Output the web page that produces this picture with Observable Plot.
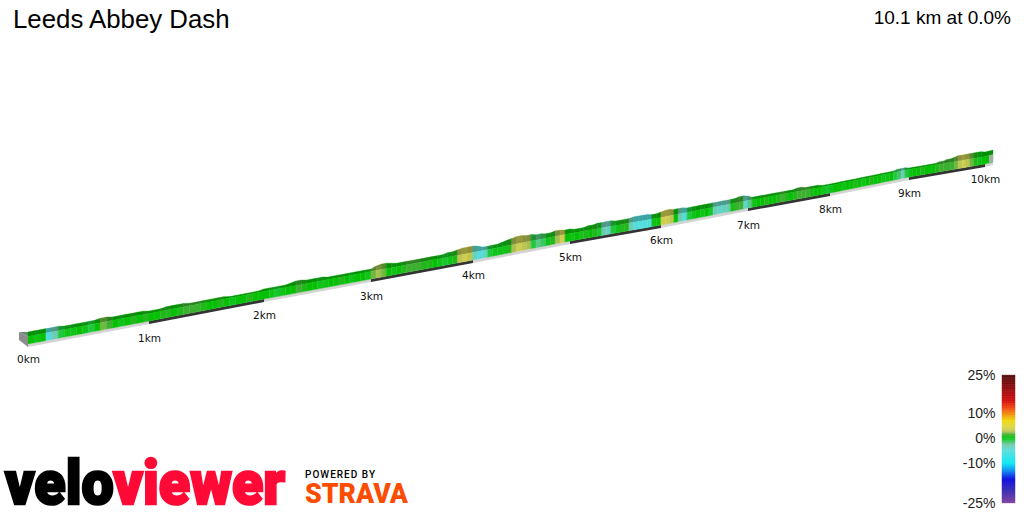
<!DOCTYPE html>
<html><head><meta charset="utf-8">
<script src="https://cdn.jsdelivr.net/npm/d3@7"></script>
<script src="https://cdn.jsdelivr.net/npm/@observablehq/plot@0.6"></script>
<style>
html,body{margin:0;padding:0;background:#fff;width:1024px;height:512px;overflow:hidden}
#wrap{position:relative;width:1024px;height:512px;font-family:"Liberation Sans",Arial,sans-serif}
#wrap>*{position:absolute}
#title{left:13px;top:5px;font-size:25.8px;color:#000}
#sub{right:13px;top:7px;font-size:19px;color:#000}
#chart{left:0;top:0}
#legend{left:940px;top:365px}
#logo{left:0;top:425px}
</style></head><body>
<div id="wrap">
<div id="chart"></div>
<div id="title">Leeds Abbey Dash</div>
<div id="sub">10.1 km at 0.0%</div>
<div id="legend"></div>
<svg id="logo" width="430" height="87">
<text x="5" y="79" font-family="Roboto,'Liberation Sans'" font-weight="900" font-size="62" stroke-width="2.5" textLength="280" lengthAdjust="spacingAndGlyphs"><tspan fill="#000" stroke="#000">velo</tspan><tspan fill="#ff0a36" stroke="#ff0a36">viewer</tspan></text>
<text x="305" y="53" font-family="Roboto,'Liberation Sans'" font-weight="500" font-size="10" textLength="70">POWERED BY</text>
<text x="305" y="78" font-family="Roboto,'Liberation Sans'" font-weight="900" font-size="27" fill="#fc4c02" textLength="103" lengthAdjust="spacingAndGlyphs">STRAVA</text>
</svg>
</div>
<script>
// Distance marks along the route and their projected position
const kmMarks=[-0.075,0,1,2,3,4,5,6,7,8,9,10,10.1];
const kmScreen=[19,28,149,264,371,473,570,661,748,830,909,985,993];
const baseKm=[0,1,2,3,4,5,6,7,8,9,10,10.1];
const baseHeight=[165,188,210,230,249,268,284,301,316,332,345,347];
const kmLabels=["0km","1km","2km","3km","4km","5km","6km","7km","8km","9km","10km"];
const labelKm=[0,1,2,3,4,5,6,7,8,9,10];
const labelHeight=[153,174,197,216,237,255,272,287,303,319,333];
// Gradient (%) of each 50 m strip
const grades=[
0.5,0,0.5,-5,-3,-1,0,0,0.5,0,-1,0.5,2,1.5,0.5,0,0.5,1,0.5,1,
0.5,0.5,1,1,0.5,1,1.5,1.5,1.5,1,0.5,0.5,1,0.5,0,0.5,0.5,1,0.5,0.5,
0.5,0,-0.5,0,0.5,0.5,1.5,1,0.5,0.5,0,0,0.5,0.5,1,0.5,0,0.5,0.5,0,
2,2.5,2,0.5,0,0.5,1,1.5,1.5,1.5,1,1,0.5,0,-0.5,0,1,3,3.5,3,
-4,-5,-4,-1,0,0,0,1,2.5,3.5,3,2.5,-1,-2,-1.5,0,1,2.5,3.5,0.5,
0,0.5,0,1,0.5,1,-0.5,-3,-3.5,-1,0,1,1,-3,-5,-5,-5,-5,0,0.5,
3.5,3.5,3,0.5,-3,-5,-1,0,0.5,0,0.5,-0.5,-3,-4,-3.5,-3,0,1.5,1.5,-4,
-2,0,0.5,0.5,1,0.5,0.5,1,1.5,1,0.5,1,1.5,1.5,1.5,1,0.5,0.5,0,-0.5,
0,0.5,0.5,0,0.5,0.5,1,0.5,0,0.5,1,0.5,0.5,0,0,0.5,-1,-1.5,-3,-1,
0,0.5,0.5,1,0.5,0.5,0.5,1,1.5,1.5,1.5,1.5,2,3,3.5,3,2,1,0,0.5,
0.5,0];
// Height of the ribbon above its plate at each 50 m point
const relief=[
12,12,12,12,12,12,11,11,11,11,11,11,12,12,11,11,11,11,11,11,
10,10,10,11,11,11,11,10,10,10,10,10,10,10,9,9,9,9,9,9,
10,10,10,10,10,11,12,12,11,11,11,11,10,10,10,10,10,10,10,10,
10,12,13,13,12,11,11,11,11,11,11,11,11,11,11,12,12,13,14,14,
14,13,11,11,11,11,12,13,14,15,15,14,14,13,13,12,12,13,13,12,
12,11,11,11,12,12,13,13,13,13,12,12,12,12,13,13,13,13,12,12,
13,14,14,13,13,13,12,12,12,12,12,12,12,12,12,12,12,12,13,13,
12,10,10,10,10,10,10,10,10,10,10,10,11,11,10,10,10,10,9,9,
9,9,9,9,9,9,9,9,9,9,9,9,9,9,9,9,9,10,10,10,
9,9,9,9,9,9,9,9,10,10,11,11,12,13,13,13,13,13,13,13,
12,12,12];
const plateKm=[0,1,2,3,4,5,6,7,8,9,10];
const plateEnd=[1,2,3,4,5,6,7,8,9,10,10.1];
const plateColor=["#d4d4d4","#333","#d4d4d4","#333","#d4d4d4","#333","#d4d4d4","#333","#d4d4d4","#333","#d4d4d4"];
const gradeStops=[-25,-20,-16,-13,-10,-5,-2.5,-1,0.5,1.5,2.5,3.5,5,7,10,12,15,20,25];
const gradeColors=["#7b3898","#2a20b0","#0000e0","#0080f0","#00e8f0","#52dcdc","#72c8a8","#20c840","#06c006","#3cb030","#a8c050","#d0cc50","#dcd838","#f0d800","#f08000","#f04000","#d00000","#8a0000","#4a0000"];
const legendTicks=[-25,-10,0,10,25];

const plateThickness=3, sideHeight=7.5;
const baseAt=d3.scaleLinear(baseKm,baseHeight);
const strips=[];
grades.forEach((g,i)=>{
  [i,i+1].forEach(p=>{
    const km=Math.min(p*0.05,10.1), b=baseAt(km)+plateThickness;
    strips.push({i,km,g,side0:b,side1:b+sideHeight,top1:b+relief[p]});
  });
});
const plates=plateKm.flatMap((k,i)=>[k,plateEnd[i]].map(km=>({i,km,low:baseAt(km),high:baseAt(km)+plateThickness,c:plateColor[i]})));
const capKm=[-0.075,0];
const cap=[{km:capKm[0],low:172,high:180,top:180},{km:capKm[1],low:165,high:175.5,top:180}];
const endCap=strips.filter(d=>d.i===grades.length-1);
const labels=labelKm.map((km,i)=>({km,h:labelHeight[i],t:kmLabels[i]}));
const colorOpt={type:"linear",domain:gradeStops,range:gradeColors,interpolate:"rgb"};

const chart=Plot.plot({
  width:1024,height:512,margin:0,
  x:{type:"linear",domain:kmMarks,range:kmScreen,axis:null},
  y:{type:"linear",domain:[0,512],range:[512,0],axis:null},
  color:colorOpt,
  marks:[
    Plot.areaY(plates,{x:"km",y1:"low",y2:"high",z:"i",fill:"c"}),
    Plot.areaY(strips,{x:"km",y1:"side1",y2:"top1",z:"i",fill:"g",stroke:"g",strokeWidth:0.4}),
    Plot.areaY(strips,{x:"km",y1:"side1",y2:"top1",z:"i",fill:"#000",fillOpacity:0.26}),
    Plot.areaY(strips,{x:"km",y1:"side0",y2:"side1",z:"i",fill:"g",stroke:"g",strokeWidth:0.4}),
    Plot.areaY(endCap,{x:"km",y1:"side0",y2:"side1",fill:"#a4ada4"}),
    Plot.areaY(cap,{x:"km",y1:"high",y2:"top",fill:"#5f8f70"}),
    Plot.areaY(cap,{x:"km",y1:"low",y2:"high",fill:"#8c8c8c"}),
    Plot.text(labels,{x:"km",y:"h",text:"t",fontSize:10.5,fontFamily:"DejaVu Sans",fill:"#111"})
  ]
});
document.getElementById("chart").append(chart);

const legendGrades=d3.range(-25,25,0.25);
const legend=Plot.plot({
  width:84,height:145,marginLeft:62,marginRight:9,marginTop:0,marginBottom:0,
  x:{type:"linear",domain:[0,1],axis:null},
  y:{type:"linear",domain:[-25,-10,0,10,25],range:[138,98,73,48,10],axis:null},
  color:colorOpt,
  marks:[
    Plot.rectY(legendGrades,{x1:()=>0,x2:()=>1,y1:d=>d,y2:d=>d+0.25,fill:d=>d+0.125,stroke:d=>d+0.125,strokeWidth:0.3}),
    Plot.axisY(legendTicks,{anchor:"left",tickSize:0,tickPadding:7,tickFormat:d=>d+"%",fontSize:14,fontFamily:"Liberation Sans",color:"#222"})
  ]
});
document.getElementById("legend").append(legend);
</script>
</body></html>
